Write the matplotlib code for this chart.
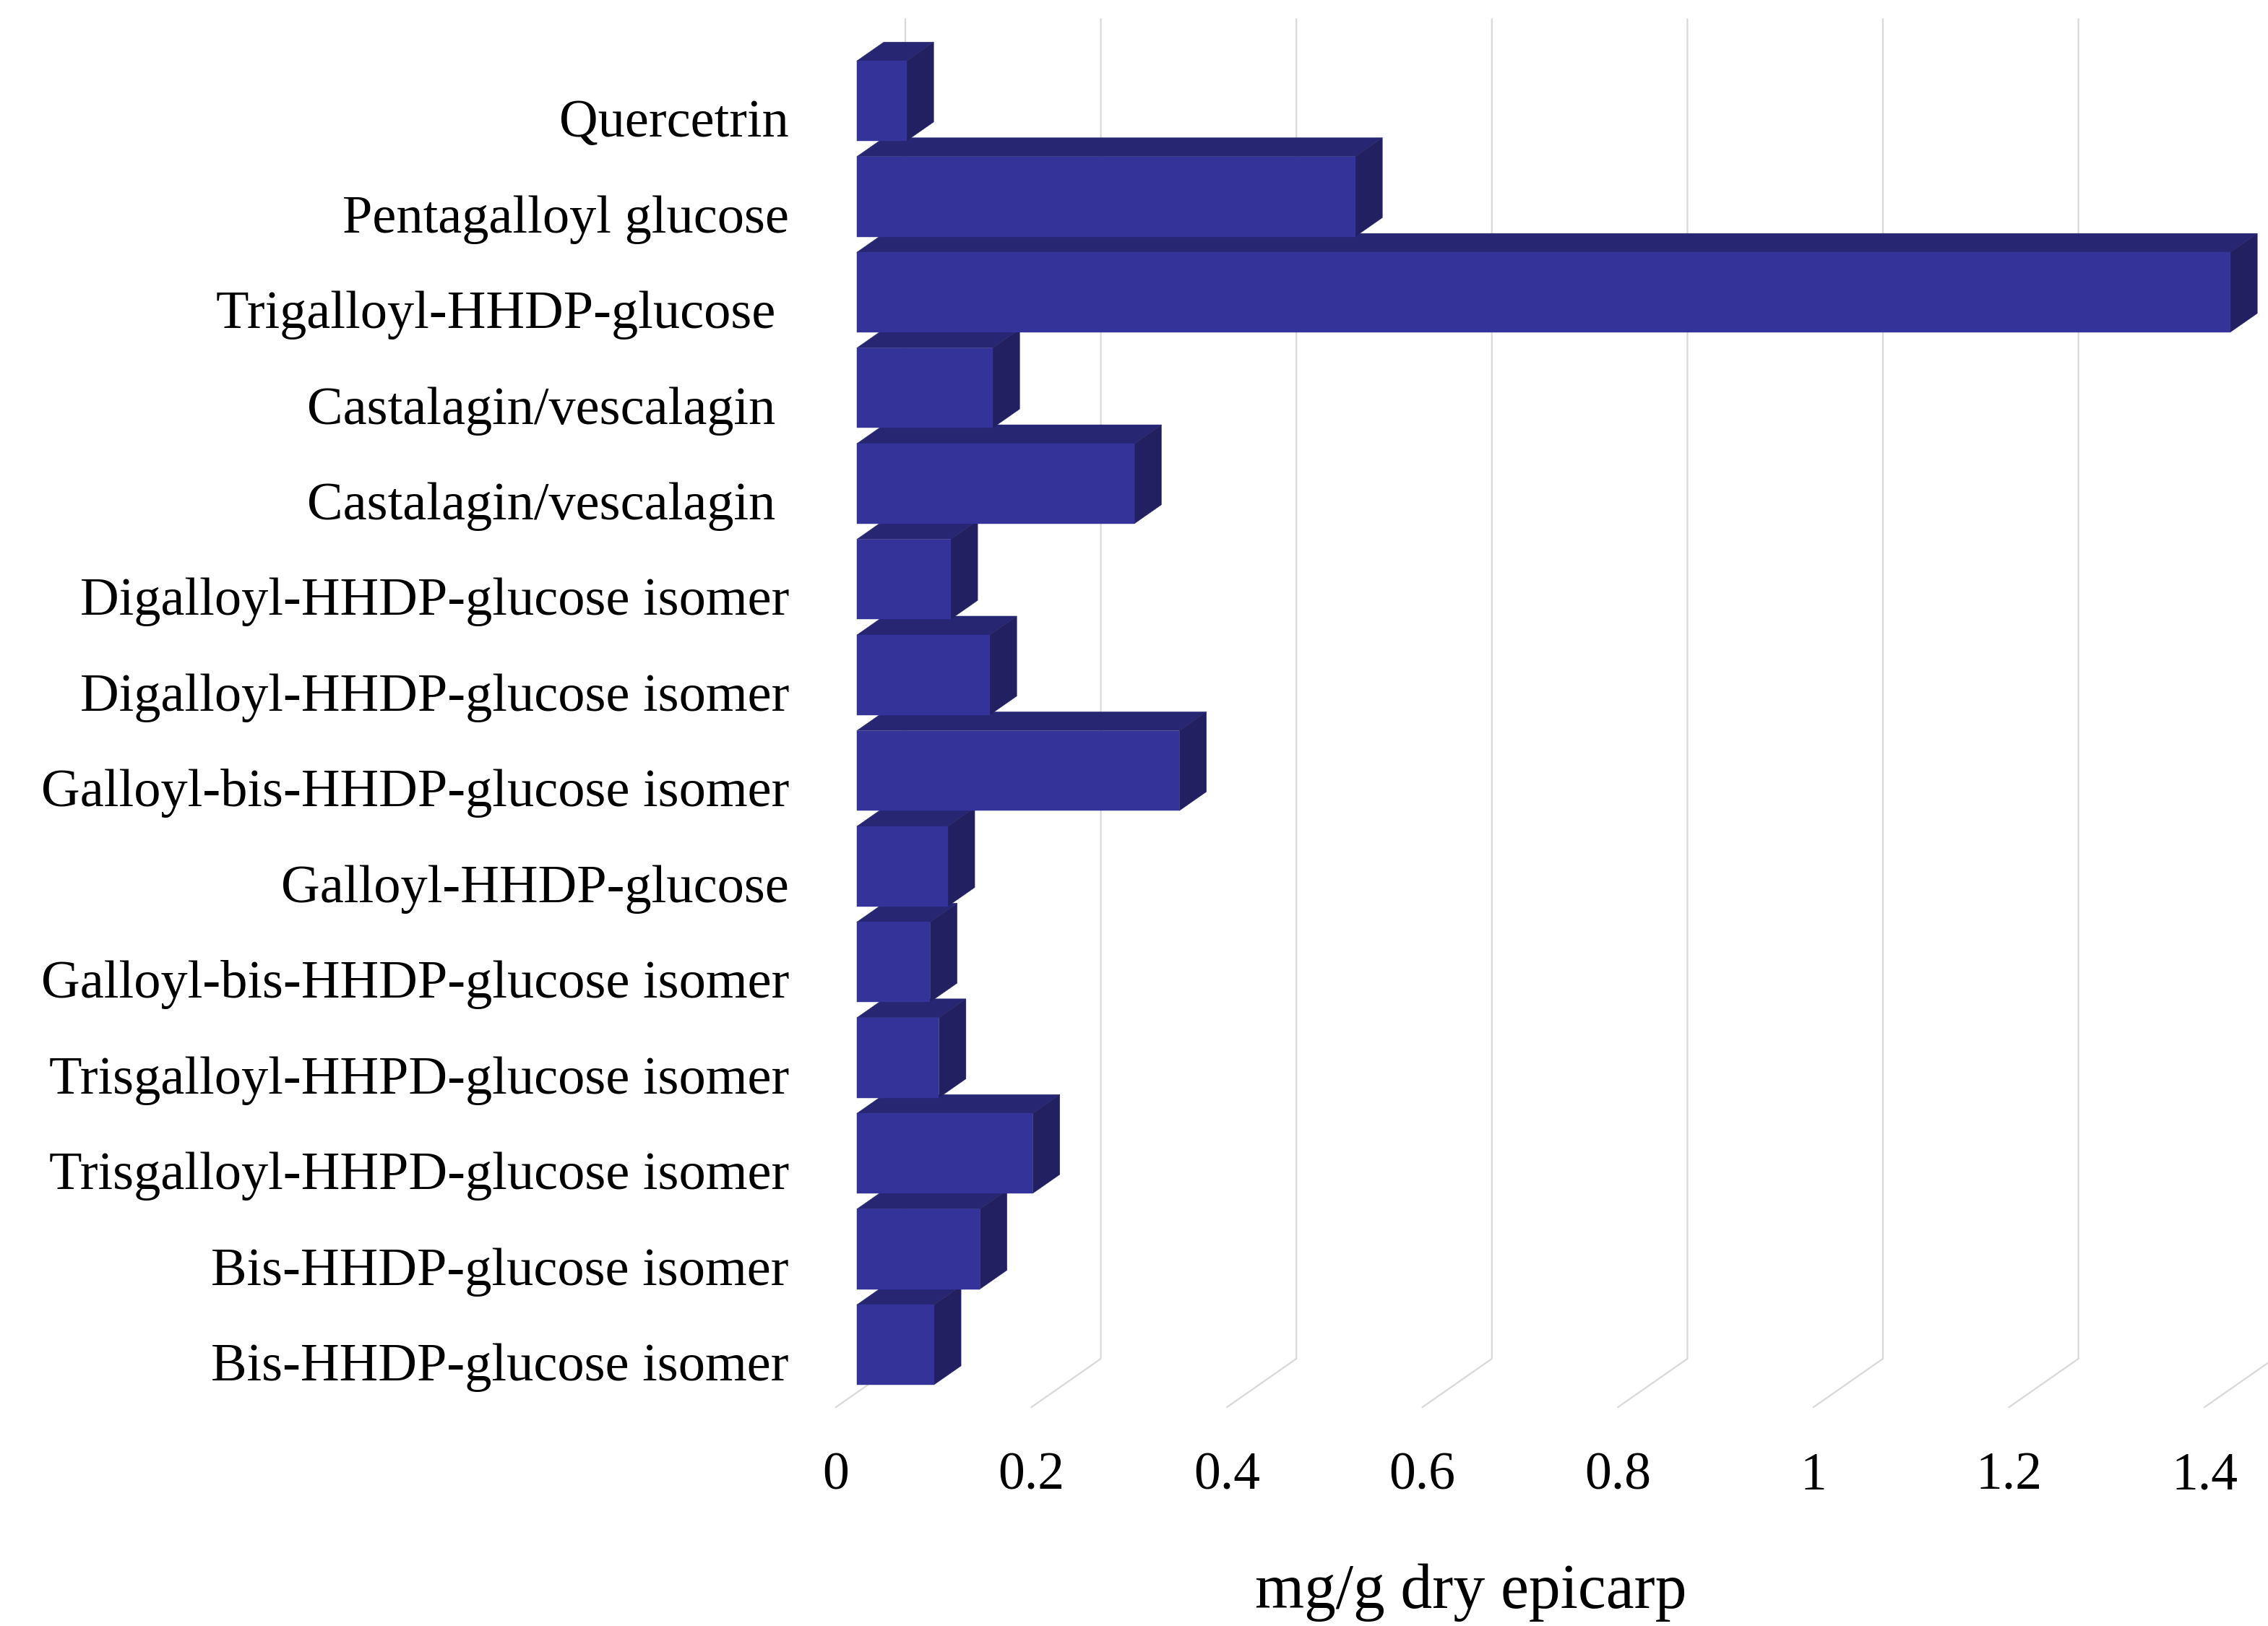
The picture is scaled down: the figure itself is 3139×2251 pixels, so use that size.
import matplotlib
matplotlib.use("Agg")
import matplotlib.pyplot as plt
from matplotlib.patches import Polygon

# ---- data -------------------------------------------------------------
compounds = [
    "Quercetrin",
    "Pentagalloyl glucose",
    "Trigalloyl-HHDP-glucose ",
    "Castalagin/vescalagin ",
    "Castalagin/vescalagin ",
    "Digalloyl-HHDP-glucose isomer",
    "Digalloyl-HHDP-glucose isomer",
    "Galloyl-bis-HHDP-glucose isomer",
    "Galloyl-HHDP-glucose",
    "Galloyl-bis-HHDP-glucose isomer",
    "Trisgalloyl-HHPD-glucose isomer",
    "Trisgalloyl-HHPD-glucose isomer",
    "Bis-HHDP-glucose isomer",
    "Bis-HHDP-glucose isomer",
]
content = [0.051, 0.51, 1.405, 0.139, 0.284, 0.096, 0.136,
           0.33, 0.093, 0.075, 0.084, 0.18, 0.126, 0.079]
x_ticks = [0, 0.2, 0.4, 0.6, 0.8, 1.0, 1.2, 1.4]
x_tick_labels = ["0", "0.2", "0.4", "0.6", "0.8", "1", "1.2", "1.4"]
x_title = "mg/g dry epicarp"

# ---- layout of the oblique 3-D frame (figure pixels) ------------------
W, H, DPI = 3139, 2251, 100
ORIGIN_X, FLOOR_Y = 1157, 1948      # front corner of the floor at value 0
PX_PER_UNIT = 1353                  # horizontal pixels per mg/g
PX_PER_SLOT = 132.46                # vertical pixels per category slot
DEPTH_PX = (96, 67)                 # floor depth: right / up

FRONT, BACK = 0.30, 0.69            # bar depth range (fraction of floor depth)
BAR_H = 0.836                       # bar thickness as a fraction of a slot

FACE_FRONT = "#333399"
FACE_TOP = "#262673"
FACE_SIDE = "#222060"
GRID = "#d9d9d9"
FONT = "Liberation Serif"

fig = plt.figure(figsize=(W / DPI, H / DPI), dpi=DPI)
ax = fig.add_axes([0, 0, 1, 1])
ax.set_xlim(-ORIGIN_X / PX_PER_UNIT, (W - ORIGIN_X) / PX_PER_UNIT)
ax.set_ylim(-(H - FLOOR_Y) / PX_PER_SLOT, FLOOR_Y / PX_PER_SLOT)
ax.axis("off")

dx = DEPTH_PX[0] / PX_PER_UNIT
dy = DEPTH_PX[1] / PX_PER_SLOT
n = len(compounds)
wall_top = n + dy

# floor and back-wall gridlines
for v in x_ticks:
    ax.plot([v, v + dx, v + dx], [0, dy, wall_top], color=GRID,
            lw=1.6, zorder=1, solid_joinstyle="miter", clip_on=True)

# bars, drawn bottom to top so upper boxes overlap the ones beneath
for k in reversed(range(n)):
    v = content[k]
    yc = n - k - 0.5
    yb, yt = yc - BAR_H / 2, yc + BAR_H / 2
    x1, x2 = FRONT * dx, BACK * dx
    o1, o2 = FRONT * dy, BACK * dy
    top = [(x1, yt + o1), (v + x1, yt + o1), (v + x2, yt + o2), (x2, yt + o2)]
    side = [(v + x1, yb + o1), (v + x2, yb + o2), (v + x2, yt + o2), (v + x1, yt + o1)]
    front = [(x1, yb + o1), (v + x1, yb + o1), (v + x1, yt + o1), (x1, yt + o1)]
    z = 2 + (n - k) * 0.01
    for pts, col in ((top, FACE_TOP), (side, FACE_SIDE), (front, FACE_FRONT)):
        ax.add_patch(Polygon(pts, closed=True, facecolor=col, edgecolor=col,
                             lw=0.3, zorder=z))

# category labels
label_x = (1092 - ORIGIN_X) / PX_PER_UNIT
baseline_shift = 29.4 / PX_PER_SLOT
for k, name in enumerate(compounds):
    ax.text(label_x, n - k - 0.5 - baseline_shift, name, ha="right",
            va="baseline", fontsize=53.6, family=FONT, color="black")

# value tick labels along the front edge of the floor
tick_y = (FLOOR_Y - 2062) / PX_PER_SLOT
for v, lab in zip(x_ticks, x_tick_labels):
    ax.text(v, tick_y, lab, ha="center", va="baseline", fontsize=53,
            family=FONT, color="black")

# axis title
ax.text((2036 - ORIGIN_X) / PX_PER_UNIT, (FLOOR_Y - 2226) / PX_PER_SLOT,
        x_title, ha="center", va="baseline", fontsize=63, family=FONT,
        color="black")

fig.savefig("out.png", dpi=DPI, facecolor="white")
